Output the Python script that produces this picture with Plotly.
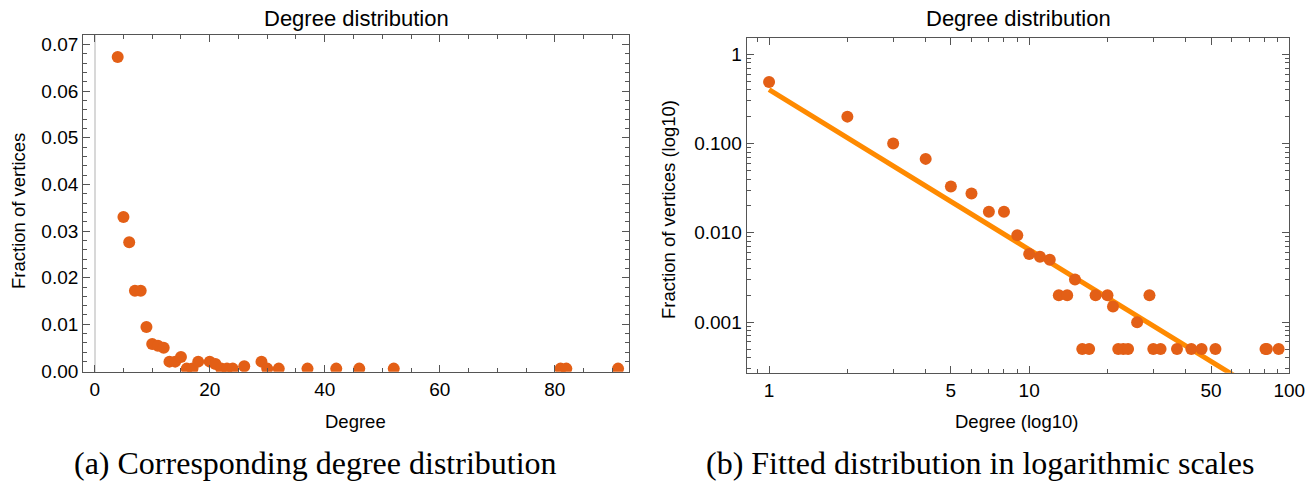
import plotly.graph_objects as go

# ---- data ----
degrees = [1, 2, 3, 4, 5, 6, 7, 8, 9, 10, 11, 12, 13, 14, 15, 16, 17, 18, 20, 21,
           22, 23, 24, 26, 29, 30, 32, 37, 42, 46, 52, 81, 82, 91]
fractions = [0.488, 0.2, 0.1, 0.0673, 0.033, 0.0276, 0.0172, 0.0172, 0.0094, 0.0058,
             0.0054, 0.005, 0.002, 0.002, 0.003, 0.0005, 0.0005, 0.002, 0.002, 0.0015,
             0.0005, 0.0005, 0.0005, 0.001, 0.002, 0.0005, 0.0005, 0.0005, 0.0005, 0.0005,
             0.0005, 0.0005, 0.0005, 0.0005]
fit_coef = 0.4
fit_exp = -1.79
fit_x = [1, 100]
fit_y = [fit_coef * x ** fit_exp for x in fit_x]

left_yticks = [0.0, 0.01, 0.02, 0.03, 0.04, 0.05, 0.06, 0.07]
left_xticks = [0, 20, 40, 60, 80]
right_xticks = [1, 5, 10, 50, 100]
right_xticklabels = ["1", "5", "10", "50", "100"]
right_yticks = [1, 0.1, 0.01, 0.001]
right_yticklabels = ["1", "0.100", "0.010", "0.001"]

W, H = 1306, 482
PT_COLOR = "#E35F16"
LINE_COLOR = "#FF8A00"
FRAME = "#555555"
FONT = "Liberation Sans"


def px(x):
    return x / W


def py(y):
    return 1 - y / H


fig = go.Figure()
fig.add_trace(go.Scatter(x=degrees, y=fractions, mode="markers",
                         marker=dict(size=12, color=PT_COLOR, line=dict(width=0)),
                         xaxis="x", yaxis="y", showlegend=False))
fig.add_trace(go.Scatter(x=fit_x, y=fit_y, mode="lines",
                         line=dict(color=LINE_COLOR, width=5),
                         xaxis="x2", yaxis="y2", showlegend=False))
fig.add_trace(go.Scatter(x=degrees, y=fractions, mode="markers",
                         marker=dict(size=12, color=PT_COLOR, line=dict(width=0)),
                         xaxis="x2", yaxis="y2", showlegend=False))

common = dict(showline=True, linecolor=FRAME, linewidth=1.3, mirror="ticks",
              ticks="inside", tickcolor=FRAME, tickwidth=1.1, ticklen=7,
              showgrid=False, automargin=False,
              tickfont=dict(family=FONT, size=19, color="black"))

minor_x_right = [0.9, 2, 3, 4, 6, 7, 8, 9, 20, 30, 40, 60, 70, 80, 90]
minor_y_right = []
for dec in [0.0001, 0.001, 0.01, 0.1, 1]:
    for m in range(2, 10):
        minor_y_right.append(m * dec)

fig.update_layout(
    width=W, height=H, margin=dict(l=0, r=0, t=0, b=0),
    paper_bgcolor="white", plot_bgcolor="white",
    xaxis=dict(domain=[px(83.3), px(629)], range=[-1.98, 92.9], anchor="y",
               tickmode="array", tickvals=left_xticks,
               minor=dict(dtick=5, ticks="inside", ticklen=4, tickcolor=FRAME, tickwidth=1),
               zeroline=True, zerolinecolor="#D8D8D8", zerolinewidth=1.5, **common),
    yaxis=dict(domain=[py(371.7), py(34.7)], range=[-0.00016, 0.0721], anchor="x",
               tickmode="array", tickvals=left_yticks, tickformat=".2f",
               minor=dict(dtick=0.002, ticks="inside", ticklen=4, tickcolor=FRAME, tickwidth=1),
               zeroline=True, zerolinecolor="#D8D8D8", zerolinewidth=1.5, **common),
    xaxis2=dict(domain=[px(746.7), px(1289.3)], type="log", range=[-0.086, 2.0], anchor="y2",
                tickmode="array", tickvals=right_xticks, ticktext=right_xticklabels,
                minor=dict(tickmode="array", tickvals=minor_x_right, ticks="inside",
                           ticklen=4, tickcolor=FRAME, tickwidth=1),
                zeroline=False, **common),
    yaxis2=dict(domain=[py(372.7), py(37.5)], type="log", range=[-3.566, 0.187], anchor="x2",
                tickmode="array", tickvals=right_yticks, ticktext=right_yticklabels,
                minor=dict(tickmode="array", tickvals=minor_y_right, ticks="inside",
                           ticklen=4, tickcolor=FRAME, tickwidth=1),
                zeroline=False, **common),
)

ann = []
tfont = dict(family=FONT, size=22, color="black")
afont = dict(family=FONT, size=18.5, color="black")
cfont = dict(family="Liberation Serif", size=32, color="black")
ann.append(dict(text="Degree distribution", x=px(357), y=py(19), font=tfont))
ann.append(dict(text="Degree distribution", x=px(1018), y=py(19), font=tfont))
ann.append(dict(text="Degree", x=px(355), y=py(421), font=afont))
ann.append(dict(text="Degree (log10)", x=px(1017), y=py(421), font=afont))
ann.append(dict(text="Fraction of vertices", x=px(18), y=py(211), font=afont, textangle=-90))
ann.append(dict(text="Fraction of vertices (log10)", x=px(668), y=py(210), font=afont, textangle=-90))
ann.append(dict(text="(a) Corresponding degree distribution", x=px(315), y=py(463), font=cfont))
ann.append(dict(text="(b) Fitted distribution in logarithmic scales", x=px(980), y=py(463), font=cfont))
for a in ann:
    a.update(xref="paper", yref="paper", showarrow=False, xanchor="center", yanchor="middle")
fig.update_layout(annotations=ann)

fig.write_html("out.html", config={"displayModeBar": False},
               post_script="document.body.style.margin='0';document.body.style.overflow='hidden';")
